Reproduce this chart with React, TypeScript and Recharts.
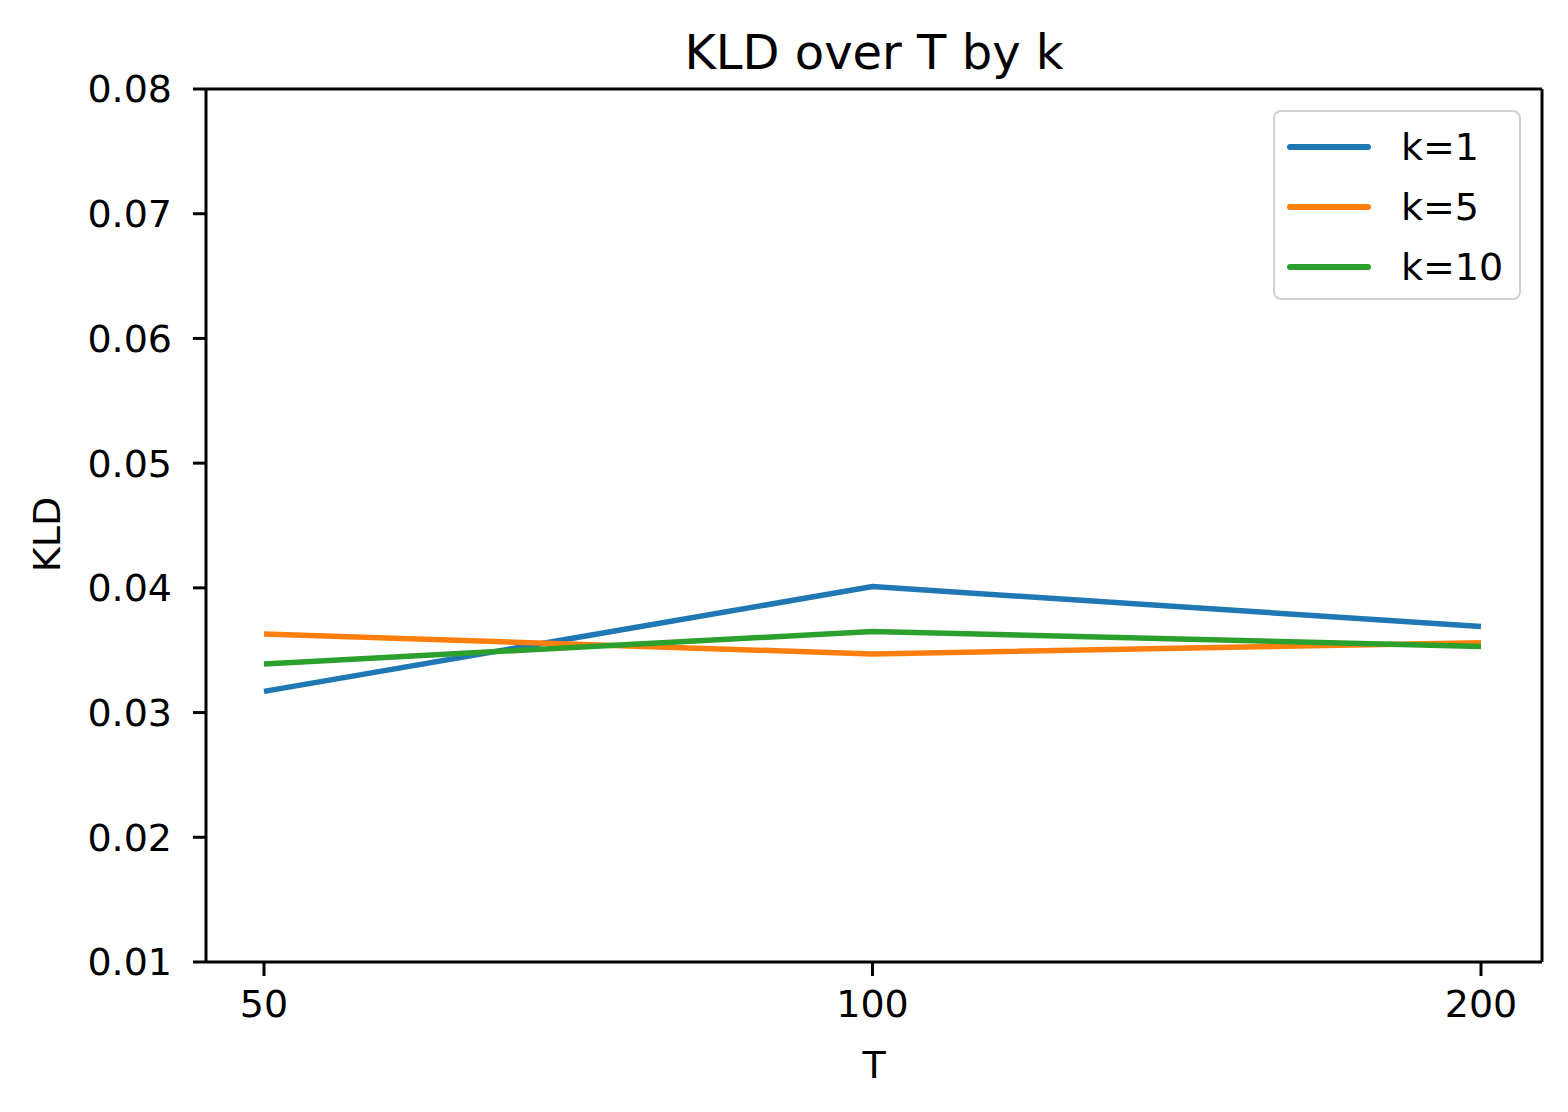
import React from "react";
import {
  LineChart,
  Line,
  XAxis,
  YAxis,
  Legend,
} from "recharts";

const tValues = ["50", "100", "200"];
const kld_k1 = [0.0317, 0.0401, 0.0369];
const kld_k5 = [0.0363, 0.0347, 0.0356];
const kld_k10 = [0.0339, 0.0365, 0.0353];
const yTicks = [0.01, 0.02, 0.03, 0.04, 0.05, 0.06, 0.07, 0.08];

const series = [
  { key: "k1", name: "k=1", color: "#1f77b4" },
  { key: "k5", name: "k=5", color: "#ff7f0e" },
  { key: "k10", name: "k=10", color: "#2ca02c" },
];

const data = tValues.map((t, i) => ({
  T: t,
  k1: kld_k1[i],
  k5: kld_k5[i],
  k10: kld_k10[i],
}));

const FONT = "'DejaVu Sans', sans-serif";
const tickStyle = { fontSize: 38, fill: "#000", fontFamily: FONT };

function LegendBox(props: any) {
  const payload = props.payload || [];
  // keep the series order, not alphabetical
  const ordered = series
    .map((s) => payload.find((p: any) => p.value === s.name))
    .filter(Boolean);
  return (
    <div
      style={{
        boxSizing: "border-box",
        width: 248,
        height: 190,
        border: "2px solid #d0d0d0",
        borderRadius: 8,
        background: "rgba(255,255,255,0.85)",
        paddingTop: 5,
        fontFamily: FONT,
      }}
    >
      {ordered.map((p: any) => (
        <div
          key={p.value}
          style={{ display: "flex", alignItems: "center", height: 60 }}
        >
          <div
            style={{
              marginLeft: 12,
              width: 84,
              height: 6,
              borderRadius: 3,
              background: p.color,
            }}
          />
          <span style={{ marginLeft: 30, fontSize: 38, color: "#000" }}>
            {p.value}
          </span>
        </div>
      ))}
    </div>
  );
}

function KldLabel(props: any) {
  const vb = props.viewBox || { x: 0, y: 0, width: 0, height: 0 };
  const x = vb.x + 60;
  const y = vb.y + vb.height / 2 + 9;
  return (
    <text
      x={x}
      y={y}
      textAnchor="middle"
      transform={`rotate(-90, ${x}, ${y})`}
      style={{ fontSize: 38, fontFamily: FONT, fill: "#000" }}
    >
      KLD
    </text>
  );
}

export default function App() {
  return (
    <div
      style={{
        position: "absolute",
        left: 0,
        top: 0,
        width: 1568,
        height: 1112,
        background: "#fff",
      }}
    >
      <div
        style={{
          position: "absolute",
          left: 474,
          top: 28,
          width: 800,
          textAlign: "center",
          fontFamily: FONT,
          fontSize: 48,
          lineHeight: "48px",
          color: "#000",
        }}
      >
        KLD over T by k
      </div>
      <LineChart
        width={1568}
        height={1112}
        data={data}
        margin={{ top: 88, right: 25, bottom: 30, left: 0 }}
      >
        <XAxis
          dataKey="T"
          type="category"
          padding={{ left: 58, right: 61 }}
          height={120}
          tick={tickStyle}
          tickSize={14}
          tickMargin={14}
          axisLine={{ stroke: "#000", strokeWidth: 3 }}
          tickLine={{ stroke: "#000", strokeWidth: 3 }}
          label={{
            value: "T",
            position: "insideBottom",
            offset: 4,
            style: { fontSize: 38, fontFamily: FONT, fill: "#000" },
          }}
        />
        <XAxis
          xAxisId="top"
          dataKey="T"
          type="category"
          orientation="top"
          padding={{ left: 58, right: 61 }}
          height={1}
          tick={false}
          tickLine={false}
          axisLine={{ stroke: "#000", strokeWidth: 3 }}
        />
        <YAxis
          domain={[0.01, 0.08]}
          ticks={yTicks}
          type="number"
          width={206}
          allowDataOverflow
          tick={tickStyle}
          tickSize={13}
          tickMargin={21}
          tickFormatter={(v: number) => v.toFixed(2)}
          axisLine={{ stroke: "#000", strokeWidth: 3 }}
          tickLine={{ stroke: "#000", strokeWidth: 3 }}
          label={<KldLabel />}
        />
        <YAxis
          yAxisId="right"
          orientation="right"
          type="number"
          domain={[0.01, 0.08]}
          allowDataOverflow
          width={1}
          tick={false}
          tickLine={false}
          axisLine={{ stroke: "#000", strokeWidth: 3 }}
        />
        <Legend
          layout="horizontal"
          verticalAlign="middle"
          align="center"
          wrapperStyle={{ left: 1273, top: 110, width: 248, height: 190 }}
          content={<LegendBox />}
        />
        {series.map((s, i) => (
          <Line
            key={s.key}
            dataKey={s.key}
            name={s.name}
            type="linear"
            xAxisId={i === 2 ? "top" : 0}
            yAxisId={i === 2 ? "right" : 0}
            stroke={s.color}
            strokeWidth={5.5}
            dot={false}
            activeDot={false}
            isAnimationActive={false}
          />
        ))}
      </LineChart>
    </div>
  );
}
